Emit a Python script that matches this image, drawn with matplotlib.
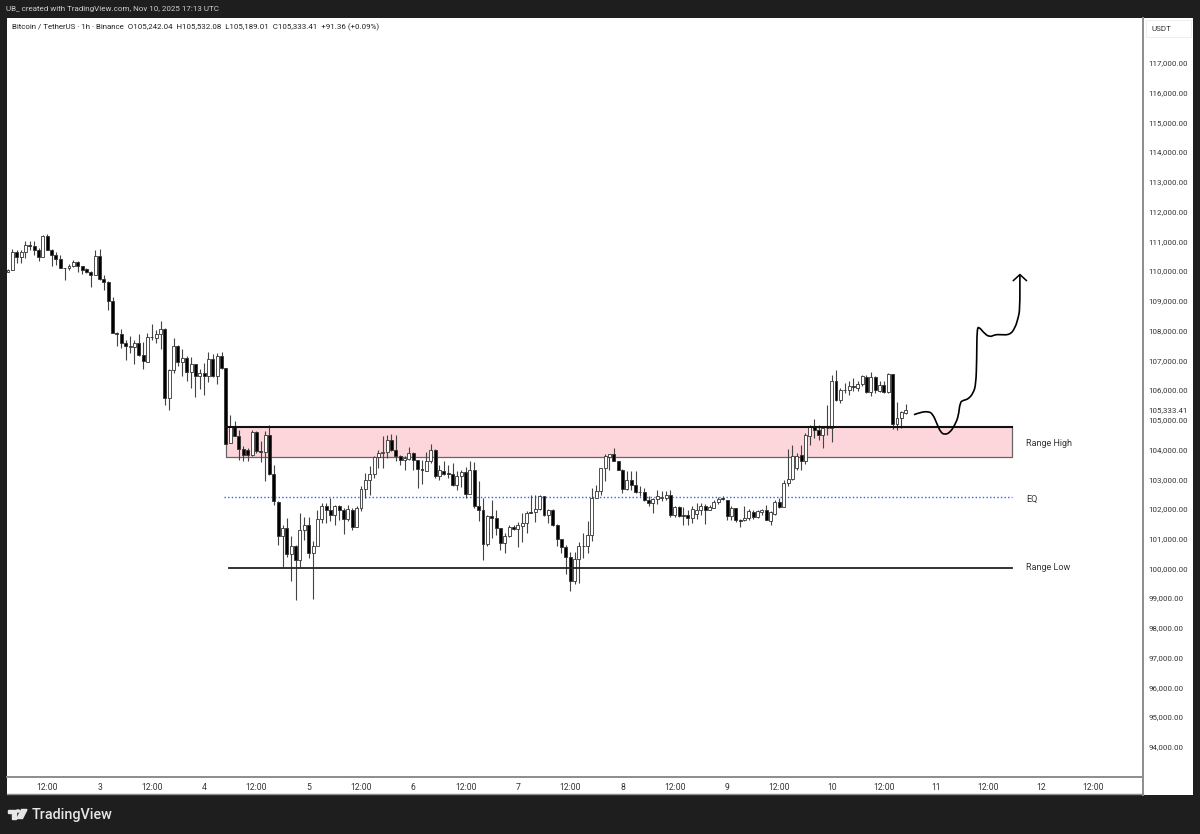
import matplotlib
matplotlib.use('Agg')
import matplotlib.pyplot as plt
from matplotlib.patches import Rectangle, Circle, Polygon, PathPatch
from matplotlib.path import Path

# hourly candles, hour 0 is Nov 3 00:00, first candle is hour -21
first_hour = -21

opens = [
    109984,110029,110657,110477,110646,110881,110836,110702,110477,111195,
    110724,110556,110410,110107,110107,110186,110320,110163,110062,109972,
    109883,110522,109737,109647,109008,107919,107897,107583,107459,107448,
    107583,107190,106954,107773,107751,107885,108054,105731,106663,107470,
    106932,107078,106618,106876,106461,106573,106461,107044,106461,107156,
    106730,104215,104742,104462,104013,103991,103822,104574,103935,103912,
    104484,103171,102229,101073,101354,100490,100737,100288,101275,101466,
    100513,100737,101657,102106,101971,101791,102083,101971,101657,101971,
    101388,102027,102667,102958,103183,103733,103878,103901,104327,103968,
    103789,103654,103676,103878,103654,103351,103284,103598,103991,103115,
    103284,103205,103183,102790,103092,103227,102509,103294,102105,101970,
    100826,101768,101690,101353,100871,101095,101387,101319,101432,101521,
    101892,101892,102004,102419,101802,101970,101465,100983,100736,100377,
    99592,100310,100758,100770,101129,102363,102587,103361,103743,103855,
    103597,103317,102666,102958,102812,102565,102554,102284,102195,102329,
    102374,102363,102453,101802,102049,101791,101791,101691,101836,101949,
    102106,101949,102038,102218,102375,102285,101747,102027,101634,101612,
    101691,101904,101724,101881,101971,101601,101836,102218,102061,102869,
    103003,103373,103822,103598,104462,104776,104641,104496,104709,104720,
    106291,105651,105988,105988,106122,106066,106190,106437,105943,106437,
    105965,106167,105920,106526,104866,105045,105242.04,
]
highs = [
    110073,110758,110724,110724,111027,111005,111027,110780,111218,111240,
    110747,110634,110545,110107,110253,110365,110331,110186,110107,109995,
    110724,110747,109883,109681,109131,107953,108054,107695,107829,107672,
    107874,107605,107919,108233,108031,108323,108087,106707,107751,107527,
    107381,107156,107111,106887,106707,106909,107268,107224,107246,107268,
    106730,105169,104944,104641,104103,104047,104664,104608,104271,104608,
    104832,103486,102252,101466,101690,101073,100793,101859,101713,101724,
    100905,101971,102195,102195,102364,102139,102139,102027,102139,102027,
    102083,102779,103205,103452,103766,103991,104439,104495,104529,104495,
    103822,103766,104080,103901,103654,103654,103901,104181,104013,103486,
    103598,103486,103542,103261,103317,103406,103597,103563,102924,102363,
    101802,102307,101970,101353,101185,101465,101465,101577,101858,101914,
    102475,102475,102475,102441,101993,102004,101488,100983,100792,100568,
    100568,100904,101207,101611,102699,102812,103373,103855,103855,104046,
    103597,103339,103261,103261,103283,102756,102699,102441,102363,102643,
    102587,102587,102621,102082,102105,102060,101970,102083,102195,102195,
    102173,102139,102308,102397,102442,102308,102083,102027,101657,102106,
    101993,101949,101971,101993,102117,101915,102308,102364,102981,104013,
    104159,103878,104159,104552,104832,105023,104832,104798,105505,106515,
    106661,106066,106235,106291,106403,106291,106515,106515,106594,106459,
    106291,106291,106571,106549,105595,105281,105532.08,
]
lows = [
    109961,110029,110275,110275,110444,110702,110556,110343,110477,110702,
    110163,110208,110096,109714,110051,110141,109961,109905,109939,109456,
    109883,109714,109378,108682,107919,107493,107414,106999,107246,106887,
    107134,106719,106954,107695,107583,107381,105507,105316,106573,106797,
    106461,106292,106068,105754,106034,105844,106270,106438,106214,106707,
    104194,104215,104439,103654,103598,103598,103766,103878,103575,102925,
    103149,102139,100793,100008,100400,99581,98941,100064,100961,100344,
    98964,100737,101522,101522,101578,101466,101634,101163,101578,101275,
    101388,101915,102364,102476,103037,103373,103373,103710,103935,103598,
    103486,103295,103654,103295,102700,102846,103261,103542,103037,102958,
    103149,103037,102779,102644,102733,102363,102509,102026,101611,100287,
    100758,101016,101129,100624,100512,101050,101297,100736,100904,101207,
    101858,101577,101970,101768,101521,101432,100758,100534,99816,99255,
    99479,99524,100343,100534,100938,102363,102475,102924,103317,103597,
    103294,102531,102643,102643,102531,102419,102251,102105,101880,102150,
    102251,102307,101723,101723,101723,101443,101465,101522,101657,101803,
    101500,101949,102016,102173,102308,101612,101612,101545,101388,101589,
    101634,101657,101691,101803,101634,101466,101803,102027,102061,102779,
    102981,103317,103317,103519,104159,104383,104327,104047,104496,104237,
    105618,105561,105898,105842,105954,105954,106122,105898,105808,105898,
    105920,105898,105898,104686,104641,104720,105189.01,
]
closes = [
    110051,110646,110477,110657,110881,110836,110702,110477,111195,110724,
    110545,110410,110107,110096,110186,110320,110163,110051,109972,109883,
    110522,109737,109636,109008,107919,107874,107583,107470,107470,107583,
    107190,106966,107785,107785,107885,108054,105731,106663,107470,106932,
    107089,106618,106887,106483,106573,106461,107044,106461,107156,106730,
    104194,104742,104439,104013,103822,103822,104574,103935,103912,104484,
    103171,102252,101073,101354,100490,100737,100288,101275,101466,100513,
    100737,101657,102106,101971,101791,102083,101949,101657,101993,101388,
    102038,102667,102981,103183,103733,103878,103901,104327,103968,103789,
    103654,103710,103878,103654,103340,103317,103598,103991,103115,103317,
    103171,103183,102790,103093,103227,102509,103294,102082,101970,100826,
    101768,101690,101353,100871,101095,101387,101319,101443,101521,101880,
    101880,102004,102419,101802,101970,101465,100983,100736,100377,99592,
    100310,100758,100770,101129,102363,102587,103361,103765,103833,103597,
    103317,102666,102958,102812,102554,102554,102284,102195,102329,102419,
    102397,102464,101802,102049,101768,101779,101690,101993,101971,102106,
    101949,102061,102218,102330,102341,101769,102027,101612,101589,101691,
    101915,101724,101915,101971,101634,101881,102218,102061,102869,103003,
    103766,103789,103598,104496,104776,104641,104496,104720,104731,106291,
    105651,105988,106010,106145,106100,106212,106459,105943,106437,105988,
    106167,105920,106549,104866,105045,105247,105333.41,
]

# levels drawn on the chart
range_high = 104750
range_low = 100000
range_bottom = 103737
eq_level = 102390
last_price = 105333.41

# hand drawn projection (hours, price)
path_hours = [186.9,188.3,190.2,191.2,192.1,193.0,194.0,195.2,196.3,197.1,197.45,198.2,199.4,
              200.5,201.1,201.3,201.35,201.9,202.8,204.2,205.5,206.6,208.9,210.1,210.8,211.2,211.2]
path_prices = [105170,105248,105282,105192,104889,104575,104496,104575,104833,105114,105585,105652,105697,
               105899,106180,107021,108087,108109,107941,107773,107862,107862,107851,108087,108423,108704,109882]
arrow_hours = [209.7,211.2,212.7]
arrow_prices = [109680,109882,109680]

time_ticks = [-12,0,12,24,36,48,60,72,84,96,108,120,132,144,156,168,180,192,204,216,228]
time_labels = ['12:00','3','12:00','4','12:00','5','12:00','6','12:00','7','12:00','8',
               '12:00','9','12:00','10','12:00','11','12:00','12','12:00']
price_ticks = list(range(94000, 118000, 1000))

W, H = 1200, 834
DARK = '#1e1e1e'
plt.rcParams['font.family'] = 'Roboto'

fig = plt.figure(figsize=(W / 100, H / 100), dpi=100, facecolor=DARK)

def fx(x):
    return x / W

def fy(y):
    return 1 - y / H

# white panel behind the chart and the price scale
fig.patches.append(Rectangle((fx(7), fy(795)), fx(1186), 777 / H, transform=fig.transFigure,
                             facecolor='white', edgecolor='none', zorder=-5))

ax = fig.add_axes([fx(7), fy(777), fx(1136), 759 / H])
ax.patch.set_alpha(0)
ax.set_xlim(-21.23, 239.45)
ax.set_ylim(92985, 118510)

for s in ['top', 'left']:
    ax.spines[s].set_visible(False)
for s in ['right', 'bottom']:
    ax.spines[s].set_color('#8c8c8c')
    ax.spines[s].set_linewidth(1.4)

# zone, levels
ax.add_patch(Rectangle((29, range_bottom), 180.4, range_high - range_bottom,
                       facecolor='#fcd6da', edgecolor='none', zorder=1))
ax.plot([29, 29, 209.4, 209.4], [range_high, range_bottom, range_bottom, range_high],
        color='#666666', lw=0.9, zorder=2)
ax.plot([29, 209.4], [range_high, range_high], color='#111111', lw=1.5, zorder=5)
ax.plot([28.5, 209.4], [eq_level, eq_level], color='#2962ff', lw=1.0, ls=(0, (1, 1.6)), zorder=2)
ax.plot([29.7, 209.4], [range_low, range_low], color='#222222', lw=1.3, zorder=5)

# candles
hours = [first_hour + i for i in range(len(opens))]
ax.vlines(hours, lows, highs, color='#444444', lw=0.8, zorder=3)
bottoms = [min(o, c) for o, c in zip(opens, closes)]
heights = [abs(c - o) for o, c in zip(opens, closes)]
colors = ['white' if c >= o else 'black' for o, c in zip(opens, closes)]
ax.bar(hours, heights, bottom=bottoms, width=0.68, color=colors, edgecolor='#333333',
       linewidth=0.6, zorder=4)

# projection, quadratic segments so the pen stroke stays round
pts = list(zip(path_hours, path_prices))
verts = [pts[0]]
codes = [Path.MOVETO]
for i in range(1, len(pts) - 1):
    mid = ((pts[i][0] + pts[i + 1][0]) / 2, (pts[i][1] + pts[i + 1][1]) / 2)
    verts += [pts[i], mid]
    codes += [Path.CURVE3, Path.CURVE3]
verts.append(pts[-1])
codes.append(Path.LINETO)
ax.add_patch(PathPatch(Path(verts, codes), facecolor='none', edgecolor='black', lw=1.2, zorder=6))
ax.plot(arrow_hours, arrow_prices, color='black', lw=1.1, zorder=6)

ax.text(212.6, 104195, 'Range High', fontsize=6.5, color='#333333', va='center', zorder=6)
ax.text(212.6, 102310, 'EQ', fontsize=6.5, color='#333333', va='center', zorder=6)
ax.text(212.6, 100020, 'Range Low', fontsize=6.5, color='#333333', va='center', zorder=6)

ax.set_xticks(time_ticks)
ax.set_xticklabels(time_labels)
ax.tick_params(axis='x', length=0, pad=4, labelsize=6.2, labelcolor='#333333')
ax.yaxis.tick_right()
ax.set_yticks(price_ticks + [last_price])
ax.set_yticklabels([f'{p:,.2f}' for p in price_ticks] + [f'{last_price:,.2f}'])
ax.tick_params(axis='y', length=0, pad=4, labelsize=5.7, labelcolor='#333333')

# header texts
fig.text(fx(6), fy(9), 'UB_ created with TradingView.com, Nov 10, 2025 17:13 UTC',
         fontsize=5.75, color='#d0d0d0', va='center')
fig.text(fx(12), fy(27), 'Bitcoin / TetherUS \u00b7 1h \u00b7 Binance  O105,242.04  H105,532.08  L105,189.01  C105,333.41  +91.36 (+0.09%)',
         fontsize=5.7, color='#222222', va='center')

# currency box on the scale
fig.patches.append(Rectangle((fx(1146), fy(37)), fx(45), 17 / H, transform=fig.transFigure,
                             facecolor='white', edgecolor='#eeeeee', lw=0.7))
fig.text(fx(1151), fy(29), 'USDT', fontsize=5.8, color='#333333', va='center')
# closing line under the time scale
fig.add_artist(plt.Line2D([fx(7), fx(1143)], [fy(794), fy(794)], color='#8c8c8c', lw=1.0))
fig.add_artist(plt.Line2D([fx(1143), fx(1143)], [fy(777), fy(795)], color='#8c8c8c', lw=1.4))

# logo
logo = '#e6e6e6'
fig.patches.append(Polygon([(fx(8), fy(809.5)), (fx(15.5), fy(809.5)), (fx(15.5), fy(818.5)), (fx(12), fy(818.5)),
                            (fx(12), fy(812.5)), (fx(8), fy(812.5))], transform=fig.transFigure, color=logo))
fig.patches.append(Circle((fx(18), fy(811)), 1.6 / W, transform=fig.transFigure, color=logo))
fig.patches.append(Polygon([(fx(21.5), fy(809.5)), (fx(27), fy(809.5)), (fx(22.5), fy(818.5)), (fx(17), fy(818.5))],
                           transform=fig.transFigure, color=logo))
fig.text(fx(32), fy(815), 'TradingView', fontsize=10.4, color=logo, va='center', fontweight='medium')

fig.savefig('out.png', dpi=100, facecolor=fig.get_facecolor())
